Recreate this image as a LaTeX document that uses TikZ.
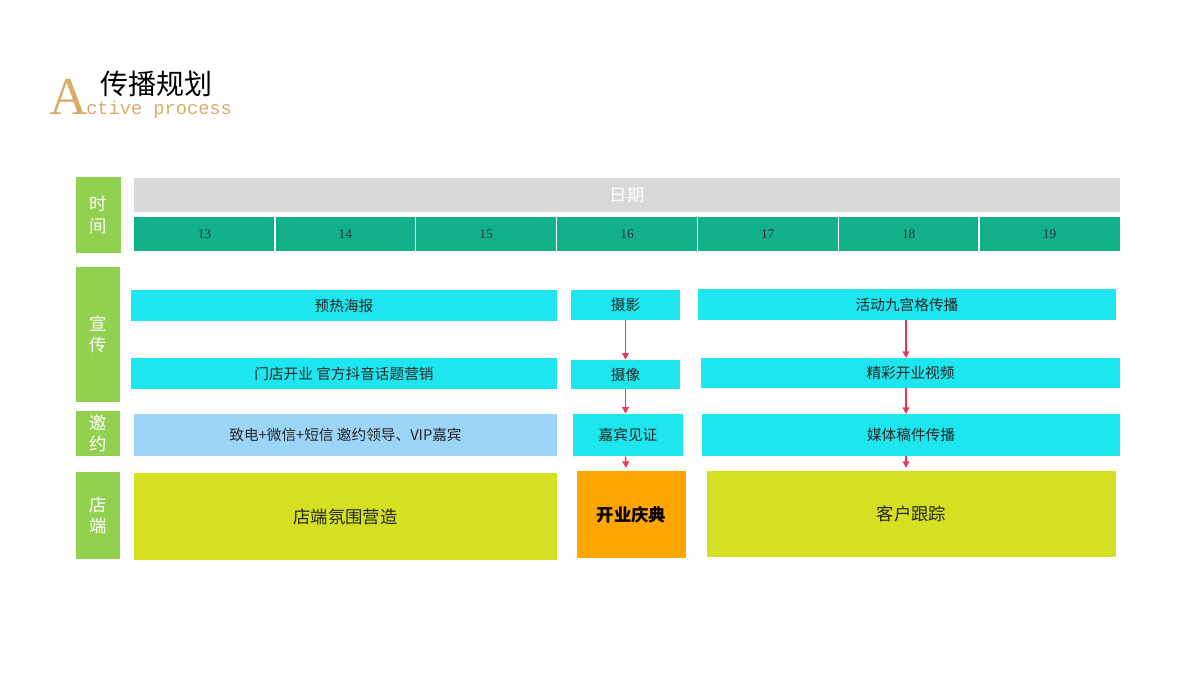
\documentclass[tikz,border=0pt]{standalone}
\usepackage{fontspec}
\setmainfont{Liberation Serif}
\setmonofont{Liberation Mono}
\newfontfamily\cjk{Noto Sans CJK SC}
\usetikzlibrary{arrows.meta}
\definecolor{lab}{HTML}{92D050}
\definecolor{teal}{HTML}{12B08A}
\definecolor{cyanb}{HTML}{1DE6EE}
\definecolor{lblue}{HTML}{9DD5F9}
\definecolor{ygreen}{HTML}{D5E022}
\definecolor{orng}{HTML}{FFA500}
\definecolor{gold}{HTML}{D9AC6A}
\definecolor{arr}{HTML}{E8385A}
\tikzset{
  bx/.style={draw=none,inner sep=0pt,font=\cjk\fontsize{11}{13}\selectfont,text=black!85},
  lbl/.style={bx,fill=lab,text=white,font=\cjk\fontsize{13}{16}\selectfont,align=center},
  link/.style={arr,line width=1pt,-{Triangle[length=5pt,width=5pt]}},
}
\newcommand{\bxat}[5]{\node[#1,minimum width={(#4-#2)*0.75pt},minimum height={(#5-#3)*0.75pt}] at ({(#2+#4)/2},{(#3+#5)/2})}
\begin{document}
\begin{tikzpicture}[x=0.75pt,y=-0.75pt]
\useasboundingbox (0,0) rectangle (1200,675);
\node[text=gold,font=\fontsize{40}{40}\selectfont,inner sep=0pt,anchor=base west] (A) at (49,114) {A};
\node[text=gold,font=\ttfamily\fontsize{14}{14}\selectfont,inner sep=0pt,anchor=base west] (sub) at (86,114) {ctive process};
\node[font=\cjk\fontsize{21}{24}\selectfont,inner sep=0pt,anchor=base west] (title) at (100,94) {传播规划};
\bxat{lbl}{76}{177}{121}{253} (t) {时\\间};
\bxat{bx,fill=black!15,text=white,font=\cjk\fontsize{13}{15}\selectfont}{134}{178}{1120}{212} (date) {日期};
\foreach \d [count=\i from 0] in {13,...,19}{
  \pgfmathsetmacro\xa{134+\i*140.857}
  \pgfmathsetmacro\xb{\xa+140.857}
  \bxat{bx,fill=teal,text=black!80,font=\fontsize{10}{12}\selectfont}{\xa}{217}{\xb}{251} (d\d) {\d};
}
\foreach \i in {1,...,6}{\draw[white,line width=1pt] ({134+\i*140.857},217) -- ({134+\i*140.857},251);}
\bxat{lbl}{76}{267}{120}{402} (xc) {宣\\传};
\bxat{lbl}{76}{411}{120}{456} (yy) {邀\\约};
\bxat{lbl}{76}{472}{120}{559} (dd) {店\\端};
\bxat{bx,fill=cyanb}{131}{290}{557}{321} (p1) {预热海报};
\bxat{bx,fill=cyanb}{571}{290}{680}{320} (sy) {摄影};
\bxat{bx,fill=cyanb}{698}{289}{1116}{320} (p3) {活动九宫格传播};
\bxat{bx,fill=cyanb}{131}{358}{557}{389} (p4) {门店开业\ 官方抖音话题营销};
\bxat{bx,fill=cyanb}{571}{360}{680}{389} (sx) {摄像};
\bxat{bx,fill=cyanb}{701}{358}{1120}{388} (p6) {精彩开业视频};
\bxat{bx,fill=lblue}{134}{414}{557}{456} (p7) {致电+微信+短信\ 邀约领导、VIP嘉宾};
\bxat{bx,fill=cyanb}{573}{414}{683}{456} (jb) {嘉宾见证};
\bxat{bx,fill=cyanb}{702}{414}{1120}{456} (mt) {媒体稿件传播};
\bxat{bx,fill=ygreen,font=\cjk\fontsize{13}{15}\selectfont}{134}{473}{557}{560} (s1) {店端氛围营造};
\bxat{bx,fill=orng,font=\cjk\bfseries\fontsize{13}{15}\selectfont,text=black}{577}{471}{686}{558} (kq) {开业庆典};
\bxat{bx,fill=ygreen,font=\cjk\fontsize{13}{15}\selectfont}{707}{471}{1116}{557} (kh) {客户跟踪};
\coordinate (e1) at (626,468);
\coordinate (e2) at (906,468);
\draw[link] (sy.south) -- (sx.north);
\draw[link] (sx.south) -- (jb.north -| sx.south);
\draw[link] (jb.south -| sx.south) -- (e1);
\draw[link] (906,320) -- (906,358);
\draw[link] (906,388) -- (906,414);
\draw[link] (906,456) -- (e2);
\end{tikzpicture}
\end{document}
